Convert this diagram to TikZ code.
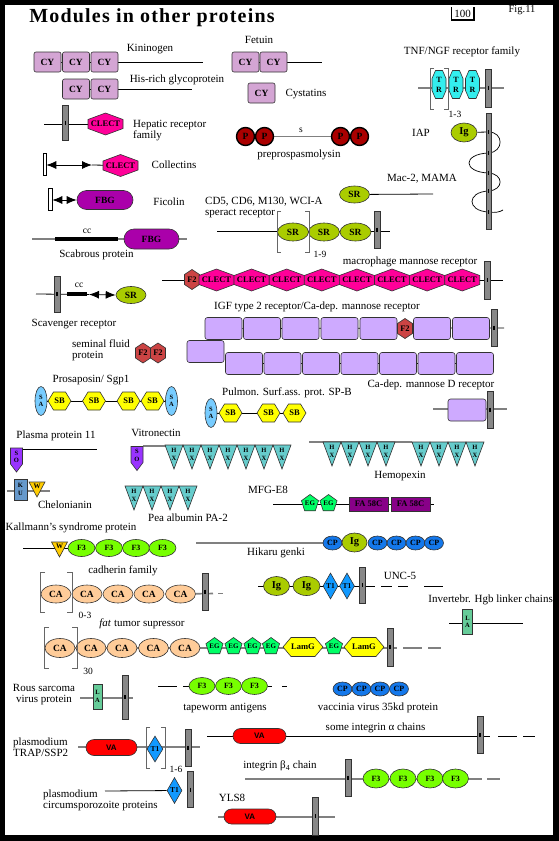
\documentclass[tikz,border=0pt]{standalone}
\usepackage{fontspec}
\setmainfont{Liberation Serif}
\setsansfont{Liberation Sans}
\newfontfamily\ttlfont[LetterSpace=6]{Liberation Serif}
\usetikzlibrary{shapes.geometric,shapes.misc,arrows.meta}

\definecolor{cyc}{RGB}{212,165,212}
\definecolor{boxc}{RGB}{206,170,255}
\definecolor{clectc}{RGB}{255,0,153}
\definecolor{f2c}{RGB}{204,68,68}
\definecolor{trc}{RGB}{51,238,238}
\definecolor{igc}{RGB}{170,204,0}
\definecolor{f3c}{RGB}{119,255,0}
\definecolor{cac}{RGB}{255,204,153}
\definecolor{cpc}{RGB}{20,120,235}
\definecolor{t1c}{RGB}{17,153,255}
\definecolor{vac}{RGB}{255,0,0}
\definecolor{fbgc}{RGB}{170,0,170}
\definecolor{pc}{RGB}{170,0,0}
\definecolor{sbc}{RGB}{255,255,0}
\definecolor{sac}{RGB}{119,204,255}
\definecolor{hxc}{RGB}{102,204,204}
\definecolor{egc}{RGB}{0,255,102}
\definecolor{fac}{RGB}{136,0,136}
\definecolor{soc}{RGB}{153,51,255}
\definecolor{kuc}{RGB}{102,153,204}
\definecolor{wc}{RGB}{255,204,0}
\definecolor{lac}{RGB}{102,204,153}
\definecolor{tmc}{RGB}{136,136,136}
\definecolor{lgray}{RGB}{128,128,128}

\pgfdeclarelayer{bg}
\pgfsetlayers{bg,main}

\tikzset{
  ttl/.style={font=\ttlfont\bfseries\fontsize{20}{20}\selectfont, inner sep=0pt},
  lbl/.style={font=\fontsize{11}{11}\selectfont, inner sep=0pt},
  sml/.style={font=\fontsize{9.5}{9.5}\selectfont, inner sep=0pt},
  bb/.style={draw=black, line width=0.8pt},
  gb/.style={draw=lgray, line width=1.6pt},
  brk/.style={draw=black!60, line width=0.8pt},
  ccbar/.style={draw=black, line width=4.5pt},
  dblarr/.style={bb, {Latex[length=10pt,width=8pt]}-{Latex[length=10pt,width=8pt]}},
  dtxt/.style={font=\bfseries\fontsize{8.5}{8.5}\selectfont, inner sep=0pt},
  dom/.style={draw=black!80, line width=0.6pt, inner sep=0pt, font=\bfseries\fontsize{9.5}{9.5}\selectfont},
  cy/.style={dom, fill=cyc, rounded corners=2pt, minimum width=27pt, minimum height=20pt},
  mbox/.style={dom, fill=boxc, rounded corners=2.5pt, minimum width=37pt, minimum height=22pt},
  ovl/.style={dom, ellipse},
  sr/.style={ovl, fill=igc, minimum width=30pt, minimum height=17pt},
  ig/.style={ovl, fill=igc, minimum width=26pt, minimum height=19pt, font=\bfseries\fontsize{10.5}{10.5}\selectfont},
  ftri/.style={ovl, fill=f3c, minimum width=27pt, minimum height=17pt, font=\bfseries\fontsize{8}{8}\selectfont},
  ca/.style={ovl, fill=cac, minimum width=30pt, minimum height=18pt},
  cp/.style={ovl, fill=cpc, minimum width=19pt, minimum height=14pt, font=\bfseries\fontsize{8}{8}\selectfont},
  sa/.style={ovl, fill=sac, minimum width=12pt, minimum height=29pt, align=center, font=\bfseries\fontsize{6.5}{7.5}\selectfont},
  pp/.style={dom, circle, fill=pc, line width=1.4pt, draw=black, minimum size=18pt},
  fbg/.style={dom, rounded rectangle, fill=fbgc, minimum width=56pt, minimum height=19pt},
  va/.style={dom, rounded rectangle, fill=vac, minimum width=52pt, minimum height=15pt, font=\sffamily\bfseries\fontsize{8}{8}\selectfont},
  eg/.style={dom, regular polygon, regular polygon sides=5, fill=egc, minimum size=18pt, font=\bfseries\fontsize{7}{7}\selectfont},
  tone/.style={dom, diamond, fill=t1c, minimum width=15pt, minimum height=26pt, font=\bfseries\fontsize{7.5}{7.5}\selectfont},
  fa/.style={dom, fill=fac, minimum width=39pt, minimum height=14pt, font=\bfseries\fontsize{8.5}{8.5}\selectfont},
  la/.style={dom, fill=lac, minimum width=10pt, minimum height=25pt, align=center, font=\bfseries\fontsize{6.5}{7.5}\selectfont},
  ku/.style={la, fill=kuc, minimum width=13pt, minimum height=21pt},
  wrect/.style={draw, fill=white, line width=0.6pt, inner sep=0pt, minimum width=3pt, minimum height=22pt},
  tmbar/.style={draw=black!80, fill=tmc, line width=0.6pt},
  tmh/.store in=\tmh, tmh=37,
  tm/.pic={\draw[tmbar] (-3,-\tmh/2) rectangle (3,\tmh/2);
    \draw[line width=1.3pt] (0,-2) -- (0,2); \coordinate (-c) at (0,0);},
  clect/.pic={\draw[dom, fill=clectc] (-17.5,-4.5) -- (0,-11) -- (17.5,-4.5) -- (17.5,4.5) -- (0,11) -- (-17.5,4.5) -- cycle;
    \node[dtxt] (-t) {CLECT};},
  ftwo/.pic={\draw[dom, fill=f2c] (-7.5,-5) -- (0,-10) -- (7.5,-5) -- (7.5,5) -- (0,10) -- (-7.5,5) -- cycle;
    \node[dtxt] (-t) {F2};},
  sb/.pic={\draw[dom, fill=sbc] (-11.5,0) -- (-6,-9) -- (6,-9) -- (11.5,0) -- (6,9) -- (-6,9) -- cycle;
    \node[dtxt] (-t) {SB};},
  lamg/.pic={\draw[dom, fill=sbc] (-20,0) -- (-12,-9.5) -- (12,-9.5) -- (20,0) -- (12,9.5) -- (-12,9.5) -- cycle;
    \node[dtxt] (-t) {LamG};},
  tr/.pic={\draw[dom, fill=trc] (-3.5,-14) -- (3.5,-14) -- (7,-6) -- (7,6) -- (3.5,14) -- (-3.5,14) -- (-7,6) -- (-7,-6) -- cycle;
    \node[dtxt, align=center, font=\bfseries\fontsize{8}{10}\selectfont] (-t) {T\\R};},
  hx/.pic={\draw[dom, fill=hxc] (-9,-12) -- (9,-12) -- (0,12) -- cycle;
    \node[dtxt, align=center, font=\bfseries\fontsize{6.5}{8}\selectfont] (-t) at (0,-3) {H\\X};},
  wd/.pic={\draw[dom, fill=wc] (-8,-7.5) -- (8,-7.5) -- (0,7.5) -- cycle;
    \node[dtxt, font=\bfseries\fontsize{7}{7}\selectfont] (-t) at (0,-3) {W};},
  so/.pic={\draw[dom, fill=soc] (-6,-12) -- (6,-12) -- (6,4) -- (0,12) -- (-6,4) -- cycle;
    \node[dtxt, align=center, font=\bfseries\fontsize{6.5}{7.5}\selectfont] (-t) at (0,-3) {S\\O};}
}

\begin{document}
\begin{tikzpicture}[x=1pt,y=-1pt]
  \useasboundingbox (0,0) rectangle (559,841);
  \begin{pgfonlayer}{bg}
    \fill[black] (0,0) rectangle (559,841);
    \fill[white] (5,5) rectangle (553,835);
  \end{pgfonlayer}
  \node[ttl] (title) at (152,18) {Modules in other proteins};
  \node[sml, font=\fontsize{11}{11}\selectfont] (scale) at (462.5,14) {100};
  \draw[line width=1.3pt] (451.5,7) -- (451.5,20) -- (474,20) -- (474,7);
  \node[sml, font=\fontsize{10.5}{10.5}\selectfont] (fig) at (522,10) {Fig.11};

  % cystatin type
  \foreach \i/\x in {1/47.5,2/76,3/104.5} \node[cy] (kin\i) at (\x,62) {CY};
  \coordinate (kinE) at (203,62);
  \node[lbl] (kinL) at (150,49) {Kininogen};
  \foreach \i/\x in {1/76,2/104.5} \node[cy] (his\i) at (\x,89) {CY};
  \coordinate (hisE) at (192,89);
  \node[lbl] (hisL) at (177,80) {His-rich glycoprotein};
  \foreach \i/\x in {1/245.5,2/273.5} \node[cy] (fet\i) at (\x,62) {CY};
  \coordinate (fetE) at (322,62);
  \node[lbl] (fetL) at (259,40) {Fetuin};
  \node[cy] (cys) at (261.5,93) {CY};
  \node[lbl] (cysL) at (306,94) {Cystatins};

  % TNF/NGF
  \node[lbl] (tnfL) at (462,52) {TNF/NGF receptor family};
  \coordinate (tnfA) at (418,88);
  \coordinate (tnfE) at (504,88);
  \foreach \i/\x in {1/439,2/456,3/472.5} \pic (tr\i) at (\x,84.5) {tr};
  \draw[brk] (434,68) -- (430,68) -- (430,109) -- (434,109);
  \draw[brk] (444,68) -- (448,68) -- (448,109) -- (444,109);
  \node[sml] (tnfN) at (455,114) {1-3};
  \pic[tmh=38] (tnfM) at (488.5,88) {tm};

  % IAP
  \node[lbl] (iapL) at (421,133) {IAP};
  \node[ig] (iap) at (464,132.5) {Ig};
  \draw[tmbar] (486,113) rectangle (491,229);
  \foreach \y in {132,153,173,191,212} \draw[line width=1.3pt] (488.5,\y-2) -- (488.5,\y+2);
  \coordinate (iapM) at (488.5,132);

  % hepatic receptor, collectins, ficolin
  \coordinate (hepA) at (44,124);
  \pic[tmh=35] (hepM) at (65.5,122.5) {tm};
  \pic (hepC) at (105.5,124) {clect};
  \node[lbl, align=left, anchor=west] (hepL) at (133,130.5) {Hepatic receptor\\family};
  \node[wrect] (colW) at (44.5,164) {};
  \coordinate (colA) at (92,165);
  \pic (colC) at (120.5,165.5) {clect};
  \node[lbl] (colL) at (174,165) {Collectins};
  \draw[dblarr] (colW.east |- colA) -- (colA);
  \node[wrect, minimum width=4pt] (ficW) at (50,199) {};
  \node[fbg] (fic) at (105,200) {FBG};
  \node[lbl] (ficL) at (169,202) {Ficolin};
  \draw[dblarr] (ficW.east |- fic) -- (fic.west);

  % scabrous
  \coordinate (scaA) at (32,239);
  \coordinate (scaE) at (187,239);
  \coordinate (scaC1) at (55,239);
  \coordinate (scaC2) at (118,239);
  \draw[ccbar] (scaC1) -- (scaC2);
  \node[fbg, minimum width=55pt, minimum height=20pt] (sca) at (151.5,239) {FBG};
  \node[sml] (scaCC) at (87,231) {cc};
  \node[lbl] (scaL) at (96.5,255) {Scabrous protein};

  % preprospasmolysin
  \foreach \i/\x in {1/245.5,2/264.5,3/340.5,4/359.5} \node[pp] (pre\i) at (\x,136.5) {P};
  \node[sml] (preS) at (301,130) {s};
  \node[lbl] (preL) at (299,155) {preprospasmolysin};

  % scavenger receptor cysteine rich
  \node[sr] (mac) at (354.5,194.5) {SR};
  \coordinate (macE) at (433,194);
  \node[lbl] (macL) at (422,179) {Mac-2, MAMA};
  \node[lbl, align=left, anchor=west] (cdL) at (205,207.5) {CD5, CD6, M130, WCI-A\\speract receptor};
  \coordinate (cdA) at (217,231.5);
  \coordinate (cdE) at (390,231.5);
  \foreach \i/\x in {1/293,2/324,3/355.5} \node[sr, minimum width=31pt, minimum height=18pt] (cd\i) at (\x,232) {SR};
  \draw[brk] (281,211) -- (277,211) -- (277,252) -- (281,252);
  \draw[brk] (305,211) -- (309,211) -- (309,252) -- (305,252);
  \node[sml] (cdN) at (320,254) {1-9};
  \pic (cdM) at (377,229.5) {tm};
  \coordinate (scvA) at (36,294);
  \pic[tmh=36] (scvM) at (57,294) {tm};
  \coordinate (scvC1) at (67,294);
  \coordinate (scvC2) at (87,294);
  \draw[ccbar] (scvC1) -- (scvC2);
  \coordinate (scvB) at (89,294.5);
  \node[sr] (scv) at (131,295) {SR};
  \draw[dblarr] (scvB) -- (scv.west);
  \node[sml] (scvCC) at (79,285) {cc};
  \node[lbl] (scvL) at (74,324) {Scavenger receptor};

  % mannose receptors
  \coordinate (mmA) at (162,280);
  \pic (mmF) at (192,279.5) {ftwo};
  \foreach \i in {1,...,8} \pic (mm\i) at ({181.4+35.1*\i},280) {clect};
  \pic[tmh=38] (mmM) at (487.5,280) {tm};
  \coordinate (mmE) at (503,280);
  \node[lbl] (mmL) at (410,262) {macrophage mannose receptor};
  \node[lbl] (igfL) at (317,307) {IGF type 2 receptor/Ca-dep. mannose receptor};
  \foreach \i/\x in {1/223.5,2/262,3/300.5,4/339.5,5/378.5,6/432,7/471} \node[mbox] (igu\i) at (\x,328.5) {};
  \pic (igfF) at (405,328.5) {ftwo};
  \pic (igfM) at (494,327.5) {tm};
  \coordinate (igfE) at (504,328);
  \node[mbox] (igl0) at (205.5,351.5) {};
  \foreach \i in {1,...,7} \node[mbox] (igl\i) at ({205.5+38.5*\i},363.5) {};
  \node[lbl] (cadL) at (431,385) {Ca-dep. mannose D receptor};
  \coordinate (cadA) at (433,409);
  \coordinate (cadE) at (507,409);
  \node[mbox, minimum width=38pt] (cad) at (467,410) {};
  \pic (cadM) at (490,409.5) {tm};
  \node[lbl] (sflL) at (72,350.5) [anchor=west, align=left] {seminal fluid\\protein};
  \pic (sfl1) at (143,353) {ftwo};
  \pic (sfl2) at (158,353) {ftwo};

  % saposin
  \node[lbl] (proL) at (91,380) {Prosaposin/ Sgp1};
  \node[sa] (pro0) at (41,401) {S\\A};
  \foreach \i/\x in {1/59.5,2/94,3/128.5,4/152.5} \pic (pro\i) at (\x,401) {sb};
  \node[sa] (pro5) at (171.5,401) {S\\A};
  \node[lbl] (pulL) at (287,393) {Pulmon. Surf.ass. prot. SP-B};
  \node[sa] (pul0) at (211,413) {S\\A};
  \foreach \i/\x in {1/230.5,2/268.5,3/294.5} \pic (pul\i) at (\x,413) {sb};

  % somatomedin / hemopexin
  \node[lbl] (ppL) at (56,436) {Plasma protein 11};
  \pic (pp) at (16.5,460) {so};
  \coordinate (ppA) at (22.5,449);
  \coordinate (ppE) at (97,449);
  \node[lbl] (vitL) at (156,433) {Vitronectin};
  \pic (vit) at (137,458.5) {so};
  \coordinate (vitA) at (143,446);
  \coordinate (vitE) at (165,446);
  \foreach \i in {1,...,7} \pic (vit\i) at ({156+18*\i},457) {hx};
  \coordinate (hemA) at (309,442);
  \coordinate (hemE) at (412,442);
  \foreach \i/\x in {1/332,2/350,3/368,4/386,5/421,6/439,7/457,8/475} \pic (hem\i) at (\x,454) {hx};
  \node[lbl] (hemL) at (400,476) {Hemopexin};
  \foreach \i/\x in {1/134,2/152,3/170,4/188} \pic (pea\i) at (\x,498) {hx};
  \node[lbl] (peaL) at (188,518) {Pea albumin PA-2};

  % chelonianin, MFG-E8, Kallmann
  \coordinate (cheA) at (7,491);
  \coordinate (cheE) at (50,491);
  \node[ku] (cheK) at (20.5,489.5) {K\\U};
  \pic (cheW) at (37,489.5) {wd};
  \node[lbl] (cheL) at (65,505) {Chelonianin};
  \node[lbl] (mfgL) at (268,490) {MFG-E8};
  \coordinate (mfgA) at (273,504);
  \coordinate (mfgE) at (434,504);
  \node[eg] (mfg1) at (310,503.5) {EG};
  \node[eg] (mfg2) at (328.5,503.5) {EG};
  \node[fa] (mfg3) at (368.5,504) {FA 58C};
  \node[fa] (mfg4) at (410.5,504) {FA 58C};
  \node[lbl] (kalL) at (71,528) {Kallmann's syndrome protein};
  \coordinate (kalA) at (23,548);
  \pic (kalW) at (59.5,549.5) {wd};
  \foreach \i/\x in {1/81.5,2/109,3/136,4/162.5} \node[ftri] (kal\i) at (\x,548) {F3};

  % Hikaru genki
  \coordinate (hikA) at (196,543);
  \node[cp] (hik1) at (332.5,543) {CP};
  \node[ig, minimum width=25pt] (hik2) at (354.5,542.5) {Ig};
  \foreach \i/\x in {3/377.5,4/396.5,5/415.5,6/434} \node[cp] (hik\i) at (\x,543) {CP};
  \node[lbl] (hikL) at (276,553) {Hikaru genki};

  % cadherins
  \node[lbl] (cdhL) at (123,571) {cadherin family};
  \foreach \i/\x in {1/56,2/87,3/118,4/149,5/180.5} \node[ca] (cdh\i) at (\x,594) {CA};
  \draw[brk] (45,572) -- (40,572) -- (40,612) -- (45,612);
  \draw[brk] (67,572) -- (72,572) -- (72,612) -- (67,612);
  \node[sml] (cdhN) at (85,615) {0-3};
  \pic (cdhM) at (205,591.5) {tm};
  \coordinate (cdhE) at (213,593.5);
  \coordinate (cdhD1) at (218,593.5);
  \coordinate (cdhD2) at (223,593.5);

  % UNC-5
  \coordinate (uncA) at (258,586);
  \node[ig] (unc1) at (276.5,586) {Ig};
  \node[ig, minimum width=27pt] (unc2) at (306.5,586) {Ig};
  \node[tone] (unc3) at (330.5,586) {T1};
  \node[tone] (unc4) at (347,586) {T1};
  \pic[tmh=36] (uncM) at (362.5,585) {tm};
  \coordinate (uncB) at (375,586);
  \node[lbl] (uncL) at (400,576) {UNC-5};

  % linker chains
  \node[lbl, anchor=east] (invL) at (553,600) {Invertebr. Hgb linker chains};
  \coordinate (invA) at (449,623);
  \coordinate (invE) at (523,623);
  \node[la] (inv) at (467.5,622) {L\\A};

  % fat
  \node[lbl] (fatL) at (142,624) {\textit{fat} tumor supressor};
  \foreach \i/\x in {1/60,2/91,3/122,4/153.5,5/185} \node[ca, minimum height=19pt] (fat\i) at (\x,648) {CA};
  \draw[brk] (49,627) -- (44,627) -- (44,668) -- (49,668);
  \draw[brk] (72,627) -- (77,627) -- (77,668) -- (72,668);
  \node[sml] (fatN) at (88,671) {30};
  \foreach \i/\x in {1/214.5,2/233.5,3/252.5,4/271} \node[eg] (fe\i) at (\x,646.5) {EG};
  \pic (fl1) at (303,647) {lamg};
  \node[eg] (fe5) at (334,646.5) {EG};
  \pic (fl2) at (364,647) {lamg};
  \pic[tmh=38] (fatM) at (390,647) {tm};
  \coordinate (fatB) at (397,648);

  % Rous, tapeworm, vaccinia
  \node[lbl, align=center] (rouL) at (44,695) {Rous sarcoma\\virus protein};
  \coordinate (rouA) at (80,698);
  \coordinate (rouE) at (133,698);
  \node[la, minimum width=9pt] (rou) at (97.5,696.5) {L\\A};
  \pic[tmh=44] (rouM) at (125,697) {tm};
  \coordinate (tapA) at (158,686);
  \coordinate (tapB) at (177,686);
  \coordinate (tapC) at (183,686);
  \foreach \i/\x in {1/202,2/228.5,3/254.5} \node[ftri, minimum width=26pt] (tap\i) at (\x,686) {F3};
  \coordinate (tapD) at (272,686);
  \coordinate (tapE) at (282,686);
  \coordinate (tapF) at (287,686);
  \node[lbl] (tapL) at (225,708) {tapeworm antigens};
  \foreach \i/\x in {1/342.5,2/361.5,3/380,4/399} \node[cp] (vac\i) at (\x,689) {CP};
  \node[lbl] (vacL) at (378,708) {vaccinia virus 35kd protein};

  % von Willebrand A
  \node[lbl, align=left, anchor=west] (traL) at (13,747) {plasmodium\\TRAP/SSP2};
  \coordinate (traA) at (78,747);
  \coordinate (traE) at (200,747);
  \node[va, minimum width=51pt, minimum height=16pt] (tra1) at (111.5,747.5) {VA};
  \node[tone, minimum width=16pt] (tra2) at (155,749) {T1};
  \draw[brk] (150,727) -- (146,727) -- (146,768) -- (150,768);
  \draw[brk] (161,727) -- (165,727) -- (165,768) -- (161,768);
  \node[sml] (traN) at (176,769) {1-6};
  \pic (traM) at (188,747.5) {tm};
  \node[lbl, align=left, anchor=west] (cirL) at (43,800) {plasmodium\\circumsporozoite proteins};
  \coordinate (cirA) at (105,791);
  \node[tone] (cir) at (174.5,790.5) {T1};
  \pic[tmh=36] (cirM) at (190.5,789.5) {tm};
  \coordinate (inaA) at (207,736);
  \node[va, minimum width=53pt] (ina) at (259.5,736) {VA};
  \pic (inaM) at (480,735) {tm};
  \coordinate (inaB) at (490,736);
  \node[lbl] (inaL) at (375.5,728) {some integrin α chains};
  \node[lbl] (inbL) at (280,766) {integrin β\textsubscript{4} chain};
  \coordinate (inbA) at (245,779);
  \pic (inbM) at (348,777.5) {tm};
  \foreach \i/\x in {1/376,2/403,3/430,4/455.5} \node[ftri, minimum width=26pt, minimum height=19pt] (inb\i) at (\x,778.5) {F3};
  \coordinate (inbB) at (482,779);
  \node[lbl] (ylsL) at (232,798) {YLS8};
  \coordinate (ylsA) at (218,817);
  \coordinate (ylsE) at (335,817);
  \node[va] (yls) at (250,816.5) {VA};
  \pic[tmh=38] (ylsM) at (315.5,816) {tm};

  % backbones
  \begin{pgfonlayer}{bg}
    \draw[bb] (kin1) -- (kinE);
    \draw[bb] (his1) -- (hisE);
    \draw[bb] (fet1) -- (fetE);
    \draw[gb] (tnfA) -- (tnfE);
    \draw[bb] (iap) -- (iapM);
    \draw[bb, line width=0.7pt] (iapM) .. controls (504,132) and (504,152) .. (488.5,153)
      .. controls (462.5,154) and (462.5,172) .. (488.5,173)
      .. controls (504,174) and (504,190) .. (488.5,191)
      .. controls (466.5,192) and (466.5,211) .. (488.5,212)
      .. controls (495,213) and (500,212) .. (503,210);
    \draw[bb] (hepA) -- (hepC-t);
    \draw[bb] (colA) -- (colC-t);
    \draw[gb, line width=1.3pt] (scaA) -- (scaE);
    \draw[gb] (pre2) -- (pre3);
    \draw[bb] (mac) -- (macE);
    \draw[bb] (cdA) -- (cdE);
    \draw[bb] (scvA) -- (scvB);
    \draw[bb] (mmA) -- (mmE);
    \draw[bb] (igu1) -- (igfE);
    \draw[bb] (igl1) -- (igl7);
    \draw[gb] (cadA) -- (cadE);
    \draw[bb] (pro0) -- (pro5);
    \draw[bb] (pul0) -- (pul3-t);
    \draw[bb] (ppA) -- (ppE);
    \draw[gb] (vitA) -- (vitE);
    \draw[gb] (hemA) -- (hemE);
    \draw[gb] (cheA) -- (cheE);
    \draw[bb] (mfgA) -- (mfgE);
    \draw[bb] (kalA) -- (kal1);
    \draw[gb] (hikA) -- (hik1);
    \draw[gb] (cdh5) -- (cdhE);
    \draw[gb] (cdhD1) -- (cdhD2);
    \draw[bb] (uncA) -- (uncB);
    \draw[bb] (381,586) -- (392,586) (398,586) -- (408,586) (424,586) -- (443,586);
    \draw[bb] (invA) -- (invE);
    \draw[gb] (fat1) -- (fatB);
    \draw[gb] (403,648) -- (422,648) (428,648) -- (441,648);
    \draw[gb] (rouA) -- (rouE);
    \draw[bb] (tapA) -- (tapB);
    \draw[bb] (tapC) -- (tap1);
    \draw[bb] (tap3) -- (tapD);
    \draw[bb] (tapE) -- (tapF);
    \draw[gb] (traA) -- (traE);
    \draw[bb] (cirA) -- (cir);
    \draw[bb] (inaA) -- (inaB);
    \draw[bb] (498,736) -- (517,736) (523,736) -- (535,736);
    \draw[gb] (inbA) -- (inbB);
    \draw[gb] (487,779) -- (500,779);
    \draw[gb] (ylsA) -- (ylsE);
  \end{pgfonlayer}
\end{tikzpicture}
\end{document}
